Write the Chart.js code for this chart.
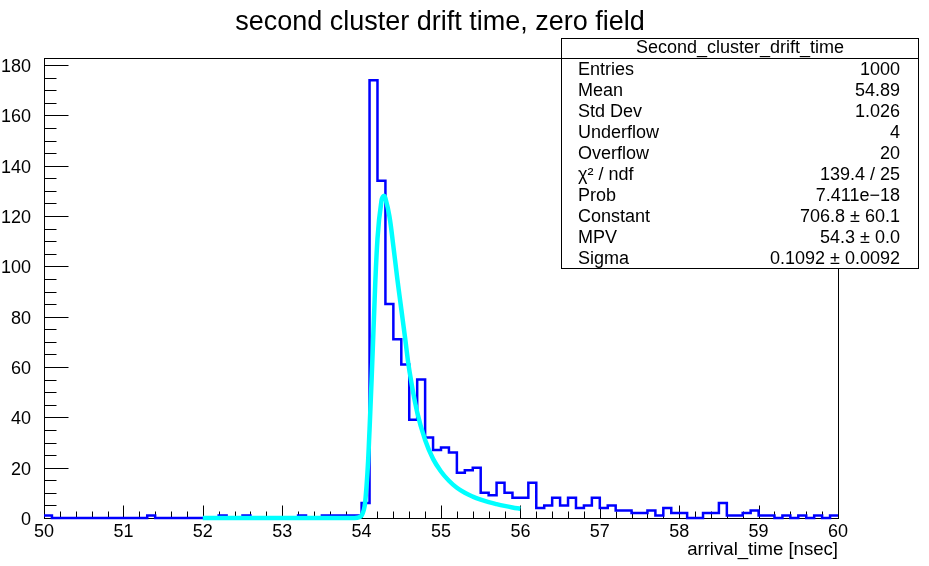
<!DOCTYPE html>
<html><head><meta charset="utf-8">
<script src="https://cdn.jsdelivr.net/npm/chart.js@4.4.1/dist/chart.umd.min.js"></script>
<style>html,body{margin:0;padding:0;background:#fff;overflow:hidden}#wrap{width:929px;height:566px}</style>
</head><body>
<div id="wrap"><canvas id="c" width="929" height="566"></canvas></div>
<script>
// ---- data ----
const binLeft = [
  50.0,50.1,50.2,50.3,50.4,50.5,50.6,50.7,50.8,50.9,
  51.0,51.1,51.2,51.3,51.4,51.5,51.6,51.7,51.8,51.9,
  52.0,52.1,52.2,52.3,52.4,52.5,52.6,52.7,52.8,52.9,
  53.0,53.1,53.2,53.3,53.4,53.5,53.6,53.7,53.8,53.9,
  54.0,54.1,54.2,54.3,54.4,54.5,54.6,54.7,54.8,54.9,
  55.0,55.1,55.2,55.3,55.4,55.5,55.6,55.7,55.8,55.9,
  56.0,56.1,56.2,56.3,56.4,56.5,56.6,56.7,56.8,56.9,
  57.0,57.1,57.2,57.3,57.4,57.5,57.6,57.7,57.8,57.9,
  58.0,58.1,58.2,58.3,58.4,58.5,58.6,58.7,58.8,58.9,
  59.0,59.1,59.2,59.3,59.4,59.5,59.6,59.7,59.8,59.9
];
const histEnd = 60.0;
const counts = [
  1,0,0,0,0,0,0,0,0,0,
  0,0,0,1,0,0,0,0,0,0,
  0,0,1,0,0,1,0,0,0,0,
  0,0,1,0,0,1,1,1,1,1,
  6,174,134,85,71,61,39,55,32,27,
  28,26,18,19,20,10,9,14,10,8,
  8,14,4,5,8,5,8,4,5,8,
  4,5,3,3,2,2,3,1,4,2,
  2,0,0,2,2,6,1,1,2,3,
  1,1,0,1,0,1,0,1,0,1
];
const fitX = [52.0,53.0,53.9,54.0,54.05,54.1,54.15,54.2,54.25,54.28,54.3,54.35,54.4,54.45,54.5,54.55,54.6,54.7,54.8,54.9,55.0,55.1,55.2,55.3,55.4,55.5,55.6,55.7,55.8,55.9,56.0];
const fitY = [0,0,0,1,8,35,75,111,126,128,127,120,108,95,83,71,59,42,31,23.5,18.5,14.8,12,10,8.5,7.3,6.3,5.5,4.8,4.2,3.7];

const chartTitle = 'second cluster drift time, zero field';
const xAxisTitle = 'arrival_time [nsec]';
const statsTitle = 'Second_cluster_drift_time';
const statsLabels = ['Entries','Mean','Std Dev','Underflow','Overflow','\u03C7\u00B2 / ndf','Prob','Constant','MPV','Sigma'];
const statsValues = ['1000','54.89','1.026','4','20','139.4 / 25','7.411e\u221218','706.8 \u00B1 60.1','54.3 \u00B1 0.0','0.1092 \u00B1 0.0092'];

const X_MIN = 50, X_MAX = 60, Y_MIN = 0, Y_MAX = 182.8;
const FONT = '"Liberation Sans", Arial, Helvetica, sans-serif';

// ---- build datasets ----
const histPoints = binLeft.map((x, i) => ({x: x, y: counts[i]}));
histPoints.push({x: histEnd, y: counts[counts.length - 1]});
const fitPoints = fitX.map((x, i) => ({x: x, y: fitY[i]}));

const rootAxes = {
  id: 'rootAxes',
  beforeDatasetsDraw(chart) {
    const {ctx, chartArea: a, scales} = chart;
    const xs = scales.x, ys = scales.y;
    ctx.save();
    ctx.strokeStyle = '#000';
    ctx.lineWidth = 1;
    const L = Math.round(a.left) + 0.5, R = Math.round(a.right) + 0.5;
    const T = Math.round(a.top) + 0.5, B = Math.round(a.bottom) + 0.5;
    ctx.strokeRect(L, T, R - L, B - T);
    ctx.beginPath();
    for (let i = 0; i <= 50; i++) {
      const v = X_MIN + i * 0.2;
      const px = Math.round(xs.getPixelForValue(v)) + 0.5;
      const len = (i % 5 === 0) ? 13 : 7;
      ctx.moveTo(px, B); ctx.lineTo(px, B - len);
    }
    for (let i = 0; i * 5 <= Y_MAX; i++) {
      const v = i * 5;
      const py = Math.round(ys.getPixelForValue(v)) + 0.5;
      const len = (i % 4 === 0) ? 24 : 12;
      ctx.moveTo(L, py); ctx.lineTo(L + len, py);
    }
    ctx.stroke();
    ctx.restore();
  },
  afterDraw(chart) {
    const {ctx, chartArea: a} = chart;
    ctx.save();
    ctx.fillStyle = '#000';
    ctx.font = '27px ' + FONT;
    ctx.textAlign = 'center';
    ctx.textBaseline = 'alphabetic';
    ctx.fillText(chartTitle, 440, 30);
    ctx.font = '18.6px ' + FONT;
    ctx.textAlign = 'right';
    ctx.fillText(xAxisTitle, a.right, 555);
    const bx = 561.5, by = 38.5, bw = 357, bh = 230;
    ctx.fillStyle = '#fff';
    ctx.fillRect(bx, by, bw, bh);
    ctx.strokeStyle = '#000';
    ctx.lineWidth = 1;
    ctx.strokeRect(bx, by, bw, bh);
    ctx.beginPath();
    ctx.moveTo(bx, 58.5); ctx.lineTo(bx + bw, 58.5);
    ctx.stroke();
    ctx.fillStyle = '#000';
    ctx.font = '18px ' + FONT;
    ctx.textBaseline = 'middle';
    ctx.textAlign = 'center';
    ctx.fillText(statsTitle, bx + bw / 2, 48);
    for (let i = 0; i < statsLabels.length; i++) {
      const yy = 70.5 + i * 20.9;
      ctx.textAlign = 'left';
      ctx.fillText(statsLabels[i], 578, yy);
      ctx.textAlign = 'right';
      ctx.fillText(statsValues[i], 900, yy);
    }
    ctx.restore();
  }
};

Chart.defaults.color = '#000';
Chart.defaults.font.family = FONT;

new Chart(document.getElementById('c'), {
  type: 'scatter',
  data: {
    datasets: [
      {
        label: 'fit',
        data: fitPoints,
        showLine: true,
        borderColor: '#00ffff',
        borderWidth: 4.5,
        pointRadius: 0,
        tension: 0.4,
        fill: false,
        clip: false,
        order: 0
      },
      {
        label: 'hist',
        data: histPoints,
        showLine: true,
        stepped: true,
        borderColor: '#0000ff',
        borderWidth: 2.5,
        pointRadius: 0,
        fill: false,
        clip: false,
        order: 1
      }
    ]
  },
  options: {
    responsive: false,
    animation: false,
    devicePixelRatio: 1,
    layout: {padding: {top: 58, right: 91, left: 0, bottom: 0}},
    plugins: {legend: {display: false}, tooltip: {enabled: false}, title: {display: false}},
    scales: {
      x: {
        type: 'linear', min: X_MIN, max: X_MAX,
        grid: {display: false}, border: {display: false},
        ticks: {stepSize: 1, font: {size: 18}, padding: -5, maxRotation: 0, autoSkip: false, includeBounds: false},
        afterFit(s) { s.height = 48; }
      },
      y: {
        type: 'linear', min: Y_MIN, max: Y_MAX,
        grid: {display: false}, border: {display: false},
        ticks: {stepSize: 20, font: {size: 18}, padding: 5, labelOffset: 2, includeBounds: false},
        afterFit(s) { s.width = 44; }
      }
    }
  },
  plugins: [rootAxes]
});
</script>
</body></html>
